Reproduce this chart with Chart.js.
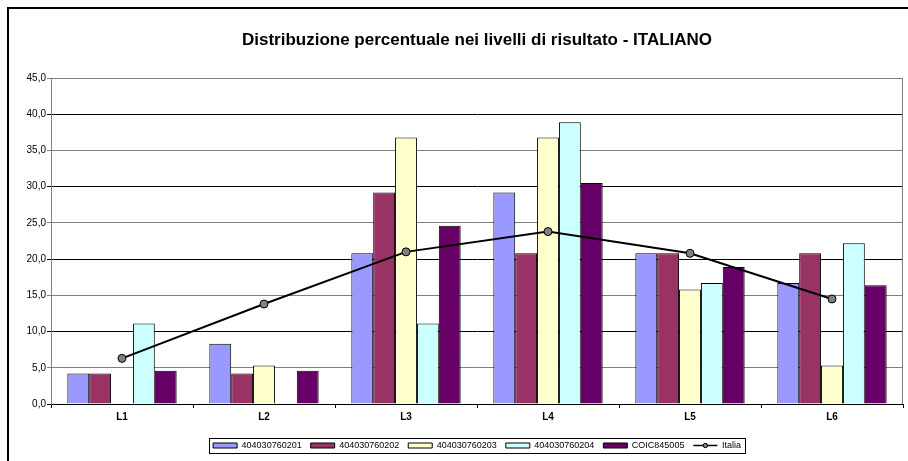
<!DOCTYPE html>
<html>
<head>
<meta charset="utf-8">
<script src="https://cdn.jsdelivr.net/npm/chart.js@4/dist/chart.umd.min.js"></script>
<style>
  html, body { margin: 0; padding: 0; background: #fff; overflow: hidden; }
  #wrap { position: relative; width: 908px; height: 461px; }
  #frame {
    position: absolute; left: 7px; top: 7px; right: -10px; bottom: -10px;
    border-left: 2px solid #000; border-top: 2px solid #000;
    pointer-events: none;
  }
</style>
</head>
<body>
<div id="wrap">
  <canvas id="chart" width="908" height="461"></canvas>
  <div id="frame"></div>
</div>
<script>
// Levels and percentages per school class
const categories = ["L1", "L2", "L3", "L4", "L5", "L6"];
const seriesNames = ["404030760201", "404030760202", "404030760203", "404030760204", "COIC845005"];
const values201 = [4.2, 8.3, 20.8, 29.2, 20.8, 16.7];
const values202 = [4.2, 4.2, 29.2, 20.8, 20.8, 20.8];
const values203 = [0, 5.3, 36.8, 36.8, 15.8, 5.3];
const values204 = [11.1, 0, 11.1, 38.9, 16.7, 22.2];
const valuesCoic = [4.6, 4.6, 24.6, 30.5, 18.9, 16.4];
const valuesItalia = [6.3, 13.8, 21.0, 23.8, 20.8, 14.5];

const barColors = ["#9999FF", "#993366", "#FFFFCC", "#CCFFFF", "#660066"];
const barSeries = [values201, values202, values203, values204, valuesCoic];

const datasets = barSeries.map((data, i) => ({
  type: "bar",
  label: seriesNames[i],
  data,
  backgroundColor: barColors[i],
  borderColor: "#000",
  borderWidth: 1,
  order: 2,
}));

datasets.push({
  type: "line",
  label: "Italia",
  data: valuesItalia,
  borderColor: "#000",
  borderWidth: 2,
  backgroundColor: "#808080",
  pointBackgroundColor: "#808080",
  pointBorderColor: "#000",
  pointBorderWidth: 1,
  pointRadius: 4,
  tension: 0,
  order: 1,
});

// plot area frame + legend box outline + dot on the Italia legend line
const decorations = {
  id: "decorations",
  beforeDatasetsDraw(chart) {
    const { ctx, chartArea: a } = chart;
    ctx.save();
    ctx.strokeStyle = "#808080";
    ctx.lineWidth = 1;
    ctx.beginPath();
    ctx.moveTo(a.left, a.top + 0.5);
    ctx.lineTo(a.right - 0.5, a.top + 0.5);
    ctx.lineTo(a.right - 0.5, a.bottom);
    ctx.stroke();
    ctx.restore();
  },
  afterDraw(chart) {
    const lg = chart.legend;
    if (!lg || !lg.legendHitBoxes.length) return;
    const boxes = lg.legendHitBoxes;
    const ctx = chart.ctx;
    const left = boxes[0].left - 4;
    const right = boxes[boxes.length - 1].left + boxes[boxes.length - 1].width + 4;
    const top = boxes[0].top - 3;
    const bottom = boxes[0].top + boxes[0].height + 3;
    ctx.save();
    ctx.strokeStyle = "#000";
    ctx.lineWidth = 1;
    ctx.strokeRect(Math.round(left) + 0.5, Math.round(top) + 0.5, Math.round(right - left), Math.round(bottom - top));
    const last = boxes[boxes.length - 1];
    const cx = last.left + 12;
    const cy = last.top + last.height / 2;
    ctx.beginPath();
    ctx.arc(cx, cy, 2.2, 0, Math.PI * 2);
    ctx.fillStyle = "#808080";
    ctx.fill();
    ctx.lineWidth = 1;
    ctx.strokeStyle = "#000";
    ctx.stroke();
    ctx.restore();
  },
};

Chart.defaults.font.family = "'Liberation Sans', Arial, sans-serif";
Chart.defaults.color = "#000";

new Chart(document.getElementById("chart"), {
  data: { labels: categories, datasets },
  plugins: [decorations],
  options: {
    responsive: false,
    animation: false,
    layout: { padding: { left: 8, right: 4, top: 0, bottom: 1 } },
    datasets: {
      bar: { categoryPercentage: 0.77, barPercentage: 1.0 },
    },
    scales: {
      x: {
        offset: true,
        grid: {
          display: true,
          drawOnChartArea: false,
          tickLength: 4,
          tickColor: "#000",
        },
        border: { color: "#000", width: 1 },
        ticks: { font: { size: 10, weight: "bold" }, padding: 3 },
        afterFit(scale) { scale.height = 28; },
      },
      y: {
        min: 0,
        max: 45,
        grid: {
          color: (c) => (c.index % 2 === 0 ? "#000" : "#808080"),
          tickColor: (c) => (c.index % 2 === 0 ? "#000" : "#808080"),
          tickLength: 4,
        },
        border: { color: "#808080", width: 1 },
        ticks: {
          stepSize: 5,
          padding: 1,
          font: { size: 10 },
          callback: (v) => v.toFixed(1).replace(".", ","),
        },
        afterFit(scale) { scale.width = 43; },
      },
    },
    plugins: {
      title: {
        display: true,
        fullSize: false,
        text: "Distribuzione percentuale nei livelli di risultato - ITALIANO",
        font: { size: 17, weight: "bold" },
        color: "#000",
        padding: { top: 30, bottom: 27.6 },
      },
      legend: {
        position: "bottom",
        fullSize: false,
        labels: {
          usePointStyle: true,
          pointStyleWidth: 24,
          boxHeight: 5,
          padding: 9,
          font: { size: 9 },
          sort: (a, b) => a.datasetIndex - b.datasetIndex,
          generateLabels(chart) {
            const items = Chart.defaults.plugins.legend.labels.generateLabels(chart);
            items.forEach((it) => {
              const isBar = it.datasetIndex < 5;
              it.pointStyle = isBar ? "rect" : "line";
              it.lineWidth = isBar ? 1 : 1.5;
              it.strokeStyle = "#000";
            });
            return items;
          },
        },
      },
      tooltip: { enabled: false },
    },
  },
});
</script>
</body>
</html>
